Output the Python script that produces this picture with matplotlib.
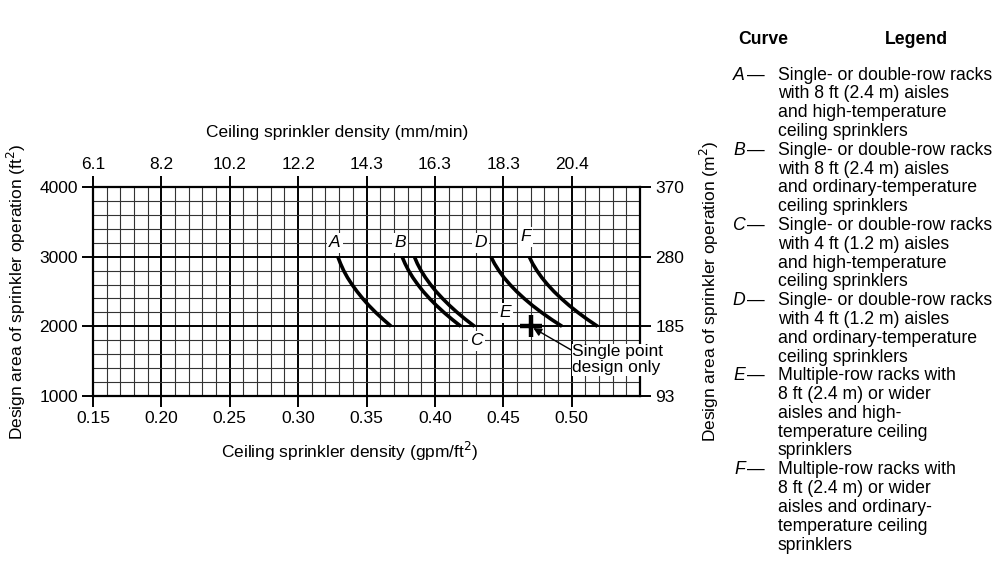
import matplotlib.pyplot as plt

plt.rcParams['font.family'] = ['Liberation Sans', 'DejaVu Sans']

# density axis (gpm/ft2) and metric equivalents
gpm_ticks = [0.15, 0.20, 0.25, 0.30, 0.35, 0.40, 0.45, 0.50]
mm_labels = ["6.1", "8.2", "10.2", "12.2", "14.3", "16.3", "18.3", "20.4"]
area_ticks = [1000, 2000, 3000, 4000]
m2_labels = ["93", "185", "280", "370"]

# curves: area (ft2) vs density
curve_area = [3000, 2900, 2800, 2700, 2600, 2500, 2400, 2300, 2200, 2100, 2000]
curve_A = [0.329, 0.3310, 0.3333, 0.3361, 0.3394, 0.3431, 0.3472, 0.3517, 0.3567, 0.3622, 0.3680]
curve_B = [0.376, 0.3782, 0.3808, 0.3839, 0.3875, 0.3915, 0.3961, 0.4011, 0.4066, 0.4126, 0.4190]
curve_C = [0.385, 0.3872, 0.3899, 0.3931, 0.3968, 0.4009, 0.4056, 0.4107, 0.4163, 0.4224, 0.4290]
curve_D = [0.441, 0.4436, 0.4468, 0.4505, 0.4549, 0.4598, 0.4653, 0.4713, 0.4780, 0.4852, 0.4930]
curve_F = [0.469, 0.4715, 0.4746, 0.4782, 0.4824, 0.4871, 0.4924, 0.4982, 0.5046, 0.5115, 0.5190]
point_E = (0.47, 2000)

# label positions for each curve letter
letters = ["A", "B", "D", "F", "E", "C"]
letter_x = [0.327, 0.3745, 0.4335, 0.4663, 0.4517, 0.4306]
letter_y = [3197, 3197, 3197, 3283, 2192, 1790]

legend_items = [
    ("A", ["Single- or double-row racks", "with 8 ft (2.4 m) aisles",
           "and high-temperature", "ceiling sprinklers"]),
    ("B", ["Single- or double-row racks", "with 8 ft (2.4 m) aisles",
           "and ordinary-temperature", "ceiling sprinklers"]),
    ("C", ["Single- or double-row racks", "with 4 ft (1.2 m) aisles",
           "and high-temperature", "ceiling sprinklers"]),
    ("D", ["Single- or double-row racks", "with 4 ft (1.2 m) aisles",
           "and ordinary-temperature", "ceiling sprinklers"]),
    ("E", ["Multiple-row racks with", "8 ft (2.4 m) or wider",
           "aisles and high-", "temperature ceiling", "sprinklers"]),
    ("F", ["Multiple-row racks with", "8 ft (2.4 m) or wider",
           "aisles and ordinary-", "temperature ceiling", "sprinklers"]),
]

fs = 12.5
lfs = 12.7
fig = plt.figure(figsize=(9.95, 5.81), dpi=100)
ax = fig.add_axes([0.0935, 0.3184, 0.5497, 0.3597])
ax.set_xlim(0.15, 0.55)
ax.set_ylim(1000, 4000)

# grid: light every 0.01 / 200, heavy every 0.05 / 1000
for i in range(41):
    x = 0.15 + i * 0.01
    heavy = i % 5 == 0
    ax.axvline(x, color='black' if heavy else '#333333',
               lw=1.4 if heavy else 0.8, zorder=1)
for i in range(16):
    y = 1000 + i * 200
    heavy = i % 5 == 0
    ax.axhline(y, color='black' if heavy else '#333333',
               lw=1.4 if heavy else 0.8, zorder=1)

for xs in [curve_A, curve_B, curve_C, curve_D, curve_F]:
    ax.plot(xs, curve_area, color='black', lw=2.6, solid_capstyle='butt', zorder=3)
ax.plot(point_E[0], point_E[1], marker='+', ms=16, mew=3.2, color='black', zorder=3)

for s, x, y in zip(letters, letter_x, letter_y):
    ax.text(x, y, s, fontsize=fs, style='italic', ha='center', va='center', zorder=4,
            bbox=dict(facecolor='white', edgecolor='none', pad=1.5))

ax.annotate("Single point\ndesign only", xy=(0.472, 1975), xytext=(0.5005, 1520),
            fontsize=fs, ha='left', va='center', linespacing=1.05, zorder=5,
            bbox=dict(facecolor='white', edgecolor='none', pad=0.5),
            arrowprops=dict(arrowstyle='-|>', color='black', lw=1.0,
                            mutation_scale=12, shrinkA=0, shrinkB=0,
                            relpos=(0, 0.8)))

for sp in ax.spines.values():
    sp.set_linewidth(1.6)
    sp.set_zorder(2)

ax.set_xticks(gpm_ticks)
ax.set_xticklabels(["%.2f" % v for v in gpm_ticks])
ax.set_yticks(area_ticks)
ax.set_yticklabels([str(v) for v in area_ticks])
ax.tick_params(direction='out', length=8, width=1.4, labelsize=fs, pad=3)

top = ax.twiny()
top.set_xlim(ax.get_xlim())
top.set_xticks(gpm_ticks)
top.set_xticklabels(mm_labels)
top.tick_params(direction='out', length=8, width=1.4, labelsize=fs, pad=3)

right = ax.twinx()
right.set_ylim(ax.get_ylim())
right.set_yticks(area_ticks)
right.set_yticklabels(m2_labels)
right.tick_params(direction='out', length=8, width=1.4, labelsize=fs, pad=3)
for a in (top, right):
    for sp in a.spines.values():
        sp.set_visible(False)

ax.set_ylabel("Design area of sprinkler operation (ft$^2$)", fontsize=fs, labelpad=8)
right.set_ylabel("Design area of sprinkler operation (m$^2$)", fontsize=fs, labelpad=10)
fig.text(350 / 995, 1 - 451 / 581, "Ceiling sprinkler density (gpm/ft$^2$)",
         fontsize=fs, ha='center', va='center')
fig.text(337 / 995, 1 - 133 / 581, "Ceiling sprinkler density (mm/min)",
         fontsize=fs, ha='center', va='center')

# text legend on the right
fig.text(738 / 995, 1 - 40 / 581, "Curve", fontsize=lfs, weight='bold', va='center')
fig.text(916 / 995, 1 - 40 / 581, "Legend", fontsize=lfs, weight='bold',
         va='center', ha='center')
y = 75
step = 18.8
for letter, lines in legend_items:
    fig.text(745 / 995, 1 - y / 581, letter, fontsize=lfs, style='italic',
             va='center', ha='right')
    fig.text(747 / 995, 1 - y / 581, "\u2014", fontsize=lfs, va='center')
    for k, line in enumerate(lines):
        fig.text(778 / 995, 1 - (y + k * step) / 581, line, fontsize=lfs, va='center')
    y += step * len(lines)

fig.savefig("out.png", dpi=100)
